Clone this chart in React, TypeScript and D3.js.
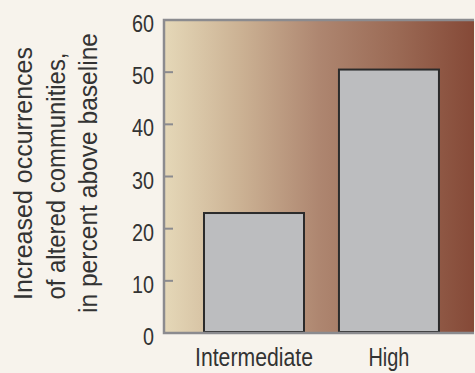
import React from "react";
import * as d3 from "d3";

const categories = ["Intermediate", "High"];
const values = [23, 50.5];
const yTicks = [0, 10, 20, 30, 40, 50, 60];
const titleLines = ["Increased occurrences", "of altered communities,", "in percent above baseline"];

const W = 475, H = 373;
const left = 164, right = 474, top = 20, bottom = 333;
const font = "'Liberation Sans', Arial, sans-serif";
const catLabelWidth: Record<string, number> = { Intermediate: 118, High: 41 };
const titleWidths = [253, 247, 280];
const titleCenters = [173.5, 176, 173];

export default function App() {
  const y = d3.scaleLinear().domain([0, 60]).range([bottom, top]);
  const x = d3.scaleBand<string>().domain(categories).range([left, right])
    .paddingInner(0.259).paddingOuter(0.278).align(0.533);
  return (
    <svg width={W} height={H} style={{ position: "absolute", left: 0, top: 0, background: "#f7f3ec" }}>
      <defs>
        <linearGradient id="bg" x1="0" x2="1" y1="0" y2="0">
          <stop offset="0" stopColor="#e5d8b8" />
          <stop offset="0.25" stopColor="#cbb193" />
          <stop offset="0.5" stopColor="#ae8670" />
          <stop offset="0.75" stopColor="#9b6a55" />
          <stop offset="1" stopColor="#854937" />
        </linearGradient>
      </defs>
      <rect x={0} y={0} width={W} height={H} fill="#f7f3ec" />
      <rect x={left} y={top} width={right - left} height={bottom - top} fill="url(#bg)" />
      {categories.map((c, i) => (
        <rect key={c} x={x(c)} y={y(values[i])} width={x.bandwidth()} height={y(0) - y(values[i]) - 1}
          fill="#bcbdbf" stroke="#2b2b2b" strokeWidth={2} />
      ))}
      <path d={`M${right},${top}H${left}V${bottom}H${right}`} fill="none" stroke="#8b8b8f" strokeWidth={2.5} />
      {yTicks.map(t => (
        <g key={t}>
          {t > 0 && t < 60 && <line x1={left} x2={left + 9} y1={y(t)} y2={y(t)} stroke="#8b8b8f" strokeWidth={2} />}
          <text x={154} y={y(t) + 12} textAnchor="end" fontFamily={font} fontSize={24} fill="#333"
            textLength={String(t).length * 11} lengthAdjust="spacingAndGlyphs">{t}</text>
        </g>
      ))}
      {categories.map(c => (
        <text key={c} x={(x(c) as number) + x.bandwidth() / 2} y={365.7} textAnchor="middle" fontFamily={font} fontSize={25} fill="#333"
          textLength={catLabelWidth[c]} lengthAdjust="spacingAndGlyphs">{c}</text>
      ))}
      {titleLines.map((l, i) => (
        <text key={l} transform={`translate(${32.3 + i * 32.3},${titleCenters[i]}) rotate(-90)`} textAnchor="middle" fontFamily={font} fontSize={26} fill="#333"
          textLength={titleWidths[i]} lengthAdjust="spacingAndGlyphs">{l}</text>
      ))}
    </svg>
  );
}
